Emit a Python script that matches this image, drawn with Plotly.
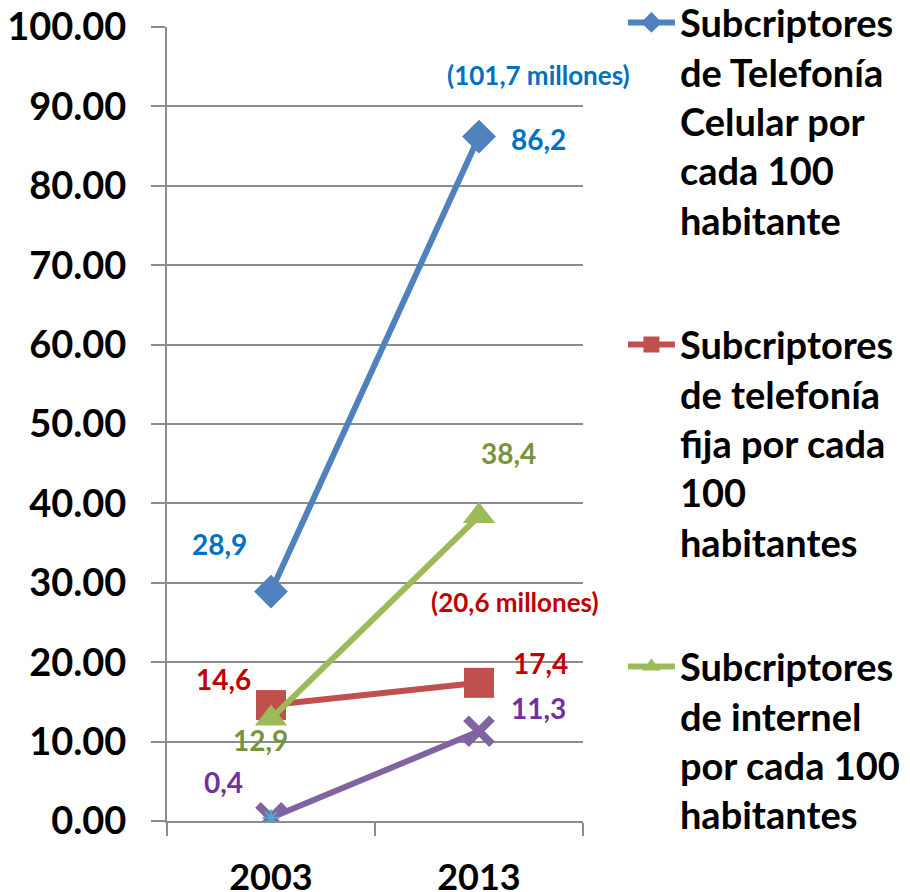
import plotly.graph_objects as go

years = ["2003", "2013"]
celular = [28.9, 86.2]
fija = [14.6, 17.4]
internet = [12.9, 38.4]
otra = [0.4, 11.3]
millones_celular = "101,7"
millones_fija = "20,6"

names = [
    "Subcriptores<br>de Telefonía<br>Celular por<br>cada 100<br>habitante",
    "Subcriptores<br>de telefonía<br>fija por cada<br>100<br>habitantes",
    "Subcriptores<br>de internel<br>por cada 100<br>habitantes",
]

FONT = "Lato, 'Open Sans', sans-serif"
fig = go.Figure()

fig.add_trace(go.Scatter(x=years, y=celular, name=names[0], legendgroup="a",
    mode="lines+markers", line=dict(color="#4F81BD", width=6),
    marker=dict(symbol="diamond", size=26, color="#4F81BD")))
fig.add_trace(go.Scatter(x=years, y=fija, name=names[1], legendgroup="b",
    mode="lines+markers", line=dict(color="#C0504D", width=6),
    marker=dict(symbol="square", size=30, color="#C0504D")))
fig.add_trace(go.Scatter(x=years, y=internet, name=names[2], legendgroup="c",
    mode="lines+markers", line=dict(color="#9BBB59", width=6),
    marker=dict(symbol="triangle-up", size=28, color="#9BBB59")))
fig.add_trace(go.Scatter(x=years, y=otra, name="otra", showlegend=False,
    mode="lines+markers", line=dict(color="#8064A2", width=6),
    marker=dict(symbol="x-thin", size=26, color="#8064A2",
                line=dict(color="#8064A2", width=8))))
fig.add_trace(go.Scatter(x=years[:1], y=otra[:1], showlegend=False,
    mode="markers",
    marker=dict(symbol="asterisk-open", size=14, color="#4BACC6",
                line=dict(color="#4BACC6", width=2))))

def fmt(v):
    return f"{v:.1f}".replace(".", ",")

# (category index, value, text, colour, xshift, yshift, size)
labels = [
    (1, celular[1], fmt(celular[1]), "#0070C0", 59, -2, 28),
    (0, celular[0], fmt(celular[0]), "#0070C0", -52, 48, 28),
    (1, internet[1], fmt(internet[1]), "#77933C", 29, 63, 28),
    (0, internet[0], fmt(internet[0]), "#77933C", -11, -21, 28),
    (1, fija[1], fmt(fija[1]), "#C00000", 61, 20, 28),
    (0, fija[0], fmt(fija[0]), "#C00000", -48, 26, 28),
    (1, otra[1], fmt(otra[1]), "#7030A0", 59, 23, 28),
    (0, otra[0], fmt(otra[0]), "#7030A0", -48, 36, 28),
    (1, celular[1], f"({millones_celular} millones)", "#0070C0", 59, 62, 26),
    (1, fija[1], f"({millones_fija} millones)", "#C00000", 36, 81, 26),
]
for x, y, t, c, xs, ys, sz in labels:
    fig.add_annotation(x=x, y=y, xref="x", yref="y", text=f"<b>{t}</b>",
                       showarrow=False, xshift=xs, yshift=ys,
                       font=dict(family=FONT, size=sz, color=c))

fig.update_layout(
    width=902, height=884,
    margin=dict(l=159, r=327, t=19, b=71, autoexpand=False),
    paper_bgcolor="white", plot_bgcolor="white",
    font=dict(family=FONT, color="black"),
    showlegend=True,
    legend=dict(x=1.096, y=1.045, xanchor="left", yanchor="top",
                valign="top", tracegroupgap=72, itemwidth=47, maxheight=900,
                font=dict(family=FONT, size=38, color="black", weight="bold"),
                bgcolor="rgba(0,0,0,0)"),
)
fig.update_yaxes(range=[0, 100], dtick=10, tickformat=".2f", automargin=False,
                 showgrid=True, gridcolor="#8C8C8C", gridwidth=2,
                 zeroline=False, showline=True, linecolor="#8C8C8C", linewidth=2,
                 ticks="outside", ticklen=14, tickwidth=2, tickcolor="#8C8C8C",
                 ticklabelstandoff=17, ticklabeloverflow="allow",
                 tickfont=dict(family=FONT, size=38, color="black", weight="bold"))
fig.update_xaxes(type="category", range=[-0.5, 1.5], showgrid=False, automargin=False,
                 showline=True, linecolor="#8C8C8C", linewidth=2,
                 ticks="outside", tickson="boundaries", ticklen=13, tickwidth=2,
                 tickcolor="#8C8C8C", ticklabelstandoff=24, ticklabeloverflow="allow",
                 tickfont=dict(family=FONT, size=36, color="black", weight="bold"))

fig.write_html("out.html")
